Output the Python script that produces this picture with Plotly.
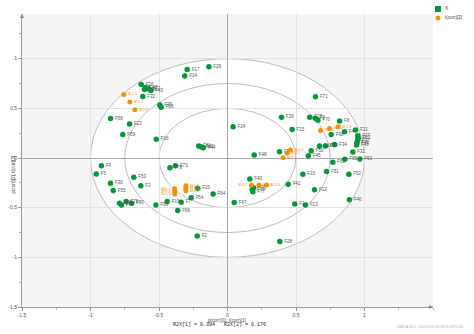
import plotly.graph_objects as go

# ---- data: X loadings p(corr) (green) ----
x_names = ["F29", "F17", "F14", "F26", "F47", "F72", "F43", "F38", "F32", "F35", "F36",
           "F58", "F23", "F59", "F16", "F61", "F62", "F44", "F24", "F48", "F73", "F78",
           "F71", "F39", "F25", "F9", "F70", "F8", "F15", "F68", "F4", "F21",
           "F27", "F22", "F37", "F41", "F49", "F34", "F18", "F33", "F31", "F50", "F45",
           "F57", "F60", "F65", "F63", "F52", "F51", "F10", "F42", "F12", "F1", "F13",
           "F46", "F28", "F40", "F77", "F76", "F75", "F6", "F5", "F30", "F55", "F53",
           "F3", "F69", "F74", "F79", "F80", "F56", "F19", "F7", "F66", "F54", "F20",
           "F64", "F67", "F2"]
x_px = [-0.136, -0.294, -0.312, -0.630, -0.600, -0.580, -0.560, -0.606, -0.618, -0.494, -0.484,
        -0.854, -0.715, -0.764, -0.520, -0.210, -0.190, -0.177, 0.041, 0.195, -0.380, -0.420,
        0.642, 0.394, 0.600, 0.640, 0.660, 0.818, 0.472, 0.757, 0.854, 0.934,
        0.951, 0.954, 0.949, 0.944, 0.942, 0.781, 0.672, 0.715, 0.915, 0.611, 0.590,
        0.380, 0.769, 0.857, 0.966, 0.886, 0.723, 0.550, 0.443, 0.635, 0.491, 0.569,
        0.890, 0.382, 0.163, 0.185, 0.190, 0.180, -0.920, -0.958, -0.854, -0.834, -0.684,
        -0.633, -0.788, -0.774, -0.740, -0.700, -0.523, -0.440, -0.338, -0.363, -0.265, -0.217,
        -0.105, 0.049, -0.221]
x_py = [0.918, 0.891, 0.827, 0.740, 0.710, 0.700, 0.680, 0.690, 0.620, 0.533, 0.510,
        0.399, 0.342, 0.238, 0.188, 0.120, 0.110, 0.104, 0.315, 0.030, -0.077, -0.097,
        0.616, 0.410, 0.410, 0.400, 0.379, 0.372, 0.288, 0.238, 0.265, 0.281,
        0.224, 0.198, 0.174, 0.148, 0.131, 0.137, 0.120, 0.120, 0.060, 0.074, 0.023,
        0.063, -0.043, -0.012, -0.010, -0.164, -0.137, -0.164, -0.265, -0.320, -0.462, -0.472,
        -0.420, -0.841, -0.211, -0.339, -0.300, -0.320, -0.077, -0.161, -0.254, -0.328, -0.194,
        -0.278, -0.455, -0.472, -0.439, -0.455, -0.472, -0.439, -0.446, -0.529, -0.399, -0.305,
        -0.362, -0.449, -0.784]

# ---- data: sample scores t(corr) (orange) ----
t_names = ["M-1-1", "M-1-2", "M-1-3", "M-2-1", "M-2-2", "M-2-3", "M-3-1", "M-3-2", "M-3-3",
           "M-4-1", "M-4-2", "M-4-3", "M-5-1", "M-5-2", "M-5-3", "M-6-1", "M-6-2", "M-6-3"]
t_x = [-0.757, -0.713, -0.677, 0.679, 0.745, 0.808, 0.460, 0.436, 0.406,
       0.175, 0.229, 0.285, -0.387, -0.385, -0.385, -0.304, -0.304, -0.304]
t_y = [0.640, 0.563, 0.486, 0.278, 0.298, 0.315, 0.080, 0.047, 0.003,
       -0.271, -0.271, -0.271, -0.310, -0.338, -0.362, -0.278, -0.305, -0.329]
t_textpos = ["middle right"] * 9 + ["middle left", "middle right", "middle right"] + \
            ["middle left"] * 3 + ["middle right"] * 3

legend_names = ["X", "t(corr)[2]"]
circle_radii = [1.0, 0.75, 0.5]
x_ticks = [-1.5, -1, -0.5, 0, 0.5, 1]
y_ticks = [-1.5, -1, -0.5, 0, 0.5, 1]
r2x = [0.394, 0.176]

GREEN = "#00973a"
ORANGE = "#f39200"
FONT = "Liberation Sans"

# plot-area pixel geometry (for paper coordinates of decorations)
L, R, T, B = 22, 433, 14, 307
def px_x(p):
    return (p - L) / (R - L)
def px_y(p):
    return (B - p) / (B - T)

fig = go.Figure()

fig.add_trace(go.Scatter(
    x=x_px, y=x_py, mode="markers+text", text=x_names, textposition="middle right",
    textfont=dict(size=4.5, color="#555555", family=FONT),
    marker=dict(size=5.5, color=GREEN, line=dict(width=0)),
    name=legend_names[0], showlegend=False, cliponaxis=False))
fig.add_trace(go.Scatter(
    x=t_x, y=t_y, mode="markers+text", text=t_names, textposition=t_textpos,
    textfont=dict(size=3.5, color=ORANGE, family=FONT),
    marker=dict(size=5, color=ORANGE, line=dict(width=0)),
    name=legend_names[1], showlegend=False, cliponaxis=False))

shapes = []
for i, r in enumerate(circle_radii):
    shapes.append(dict(type="circle", xref="x", yref="y", x0=-r, x1=r, y0=-r, y1=r,
                       line=dict(color="#b4b4b4", width=0.9),
                       fillcolor="white" if i == 0 else "rgba(0,0,0,0)", layer="below"))
# manual legend symbols
shapes.append(dict(type="rect", xref="paper", yref="paper",
                   x0=px_x(435), x1=px_x(441), y0=px_y(12), y1=px_y(6),
                   fillcolor=GREEN, line=dict(width=0)))
shapes.append(dict(type="circle", xref="paper", yref="paper",
                   x0=px_x(435.5), x1=px_x(440.5), y0=px_y(20.5), y1=px_y(15.5),
                   fillcolor=ORANGE, line=dict(width=0)))
fig.update_layout(shapes=shapes)

annotations = [
    dict(xref="paper", yref="paper", x=px_x(227), y=px_y(320), text="p(corr)[1], t(corr)[1]",
         showarrow=False, font=dict(size=4.5, color="#444444", family=FONT), yanchor="middle"),
    dict(xref="paper", yref="paper", x=px_x(219), y=px_y(325),
         text=f"R2X[1] = {r2x[0]}   R2X[2] = {r2x[1]}",
         showarrow=False, font=dict(size=5, color="#222222", family="Liberation Mono"), yanchor="middle"),
    dict(xref="paper", yref="paper", x=px_x(8), y=px_y(175), text="p(corr)[2], t(corr)[2]",
         textangle=-90, showarrow=False, font=dict(size=4.5, color="#444444", family=FONT)),
    dict(xref="paper", yref="paper", x=px_x(465), y=px_y(327), xanchor="right",
         text="SIMCA 14.1 - 2021/11/5 16:28:15 (UTC+8)", showarrow=False,
         font=dict(size=3.5, color="#aaaaaa", family=FONT), yanchor="middle"),
    # legend texts
    dict(xref="paper", yref="paper", x=px_x(443), y=px_y(9), xanchor="left", yanchor="middle",
         text=legend_names[0], showarrow=False, font=dict(size=4.5, color="#333333", family=FONT)),
    dict(xref="paper", yref="paper", x=px_x(443), y=px_y(18), xanchor="left", yanchor="middle",
         text=legend_names[1], showarrow=False, font=dict(size=4.5, color="#333333", family=FONT)),
    # axis arrow heads
    dict(xref="paper", yref="paper", x=1.0, y=0.0, ax=-6, ay=0, axref="pixel", ayref="pixel",
         showarrow=True, arrowhead=2, arrowsize=0.8, arrowwidth=1, arrowcolor="#888888", text=""),
    dict(xref="paper", yref="paper", x=0.0, y=1.0, ax=0, ay=6, axref="pixel", ayref="pixel",
         showarrow=True, arrowhead=2, arrowsize=0.8, arrowwidth=1, arrowcolor="#888888", text=""),
]
fig.update_layout(annotations=annotations)

axis_common = dict(showgrid=True, gridcolor="#e2e2e2", gridwidth=1,
                   zeroline=True, zerolinecolor="#a8a8a8", zerolinewidth=1,
                   showline=True, linecolor="#9a9a9a", linewidth=1,
                   ticks="outside", ticklen=3, tickcolor="#9a9a9a",
                   tickfont=dict(size=5, color="#555555", family=FONT),
                   minor=dict(ticks="outside", ticklen=2, tickcolor="#b0b0b0", dtick=0.25, showgrid=False),
                   automargin=False, fixedrange=True)
fig.update_xaxes(range=[-1.5, 1.5], tickvals=x_ticks, ticktext=[f"{v:g}" for v in x_ticks], **axis_common)
fig.update_yaxes(range=[-1.5, 1.45], tickvals=y_ticks, ticktext=[f"{v:g}" for v in y_ticks], **axis_common)

fig.update_layout(
    width=474, height=334,
    margin=dict(l=L, r=474 - R, t=T, b=334 - B, autoexpand=False),
    plot_bgcolor="#f5f5f5", paper_bgcolor="white",
    font=dict(family=FONT),
    showlegend=False,
)

fig.write_html("out.html")
